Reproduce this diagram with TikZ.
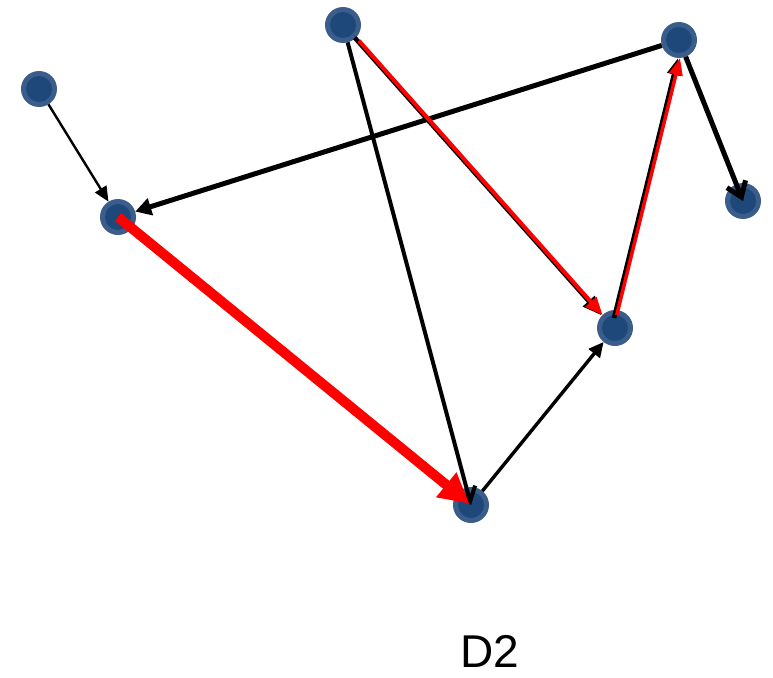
\documentclass[tikz,border=0pt]{standalone}
\usepackage{fontspec}
\setmainfont{Liberation Sans}
\usetikzlibrary{arrows.meta}
\definecolor{nodeout}{RGB}{58,93,140}
\definecolor{nodein}{RGB}{31,72,122}
\begin{document}
\begin{tikzpicture}[x=1pt,y=-1pt,
  vtx/.style={circle,fill=nodeout,draw=none,minimum size=36pt,inner sep=0pt,outer sep=0pt,
    path picture={\fill[nodein] (path picture bounding box.center) circle (13pt);}},
  blk/.style={draw=black,line cap=butt},
  redl/.style={draw=red,line cap=butt},
]
\useasboundingbox (0,0) rectangle (773,677);
\node[vtx] (A) at (39,89) {};
\node[vtx] (B) at (118,217) {};
\node[vtx] (C) at (343,25) {};
\node[vtx] (D) at (679,40) {};
\node[vtx] (E) at (743,201) {};
\node[vtx] (F) at (615,328) {};
\node[vtx] (G) at (471,505) {};
% black edges
\draw[blk,line width=2.4pt,-{Triangle[length=15pt,width=13pt]}] (A) -- (B);
\draw[blk,line width=5pt,-{Triangle[length=16pt,width=17pt]}] (D) -- (B);
\draw[blk,line width=4pt,-{Straight Barb[length=14pt,width=18pt,line width=4pt]}] (C) -- (G.center);
\draw[blk,line width=3.4pt,-{Triangle[length=15pt,width=14pt]}] (G) -- (F);
\draw[blk,line width=5pt,-{Straight Barb[length=14pt,width=20pt,line width=5pt]}] (D) -- (E.center);
% highlighted edges (black under red)
\draw[blk,line width=4.5pt,-{Triangle[length=19pt,width=15pt]}] ([xshift=-1pt]C.south east) -- ([xshift=-1pt]F.north west);
\draw[redl,line width=4pt,shorten <=4pt,-{Triangle[length=18pt,width=14pt]}] ([xshift=0.5pt]C.south east) -- ([xshift=0.5pt]F.north west);
\draw[blk,line width=4.5pt,-{Triangle[length=17pt,width=13pt]}] ([xshift=-1pt,yshift=10pt]F.center) -- ([xshift=-1pt]D.south);
\draw[redl,line width=3.5pt,shorten <=3pt,-{Triangle[length=17pt,width=13pt]}] ([xshift=1pt,yshift=10pt]F.center) -- ([xshift=1pt]D.south);
\draw[redl,line width=10pt,shorten >=2pt,-{Triangle[length=30pt,width=30pt]}] (B.center) -- (G.center);
% label
\node[font=\fontsize{46}{50}\selectfont,inner sep=0pt,anchor=base,text depth=0pt] (lbl) at (490,667) {D2};
\end{tikzpicture}
\end{document}
